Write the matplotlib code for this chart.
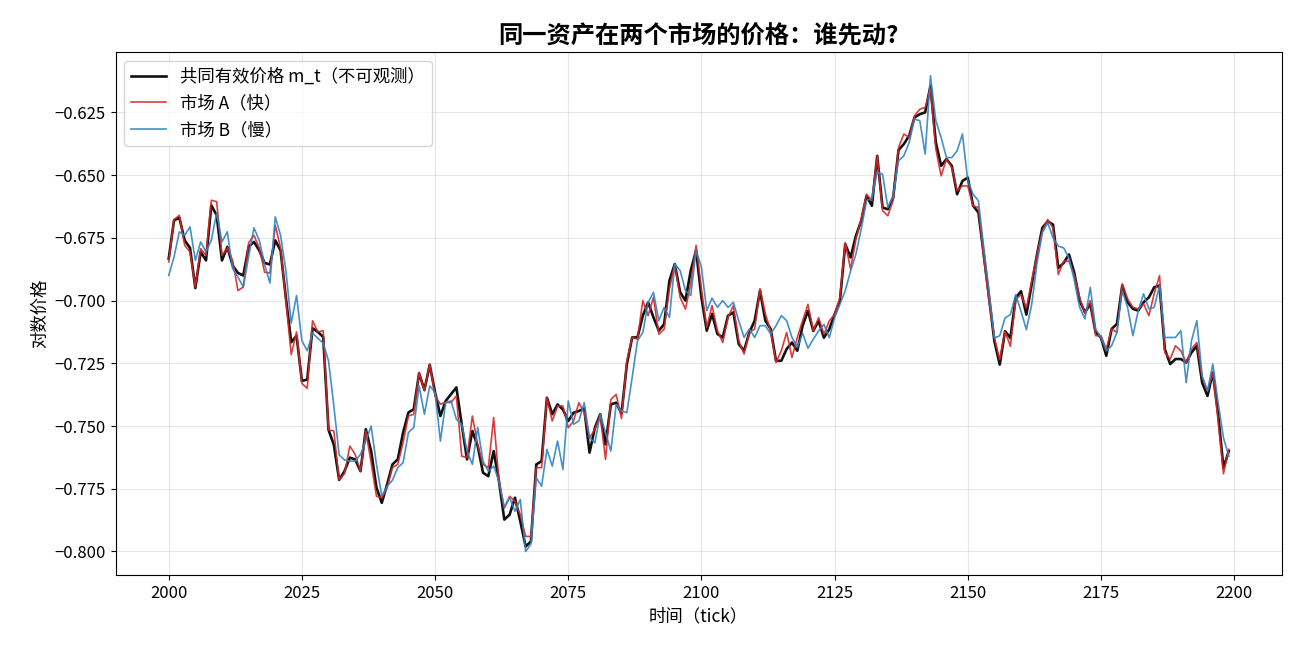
import numpy as np
import matplotlib
matplotlib.use("Agg")
import matplotlib.pyplot as plt

plt.rcParams['font.family'] = ['Noto Sans CJK SC', 'DejaVu Sans']
plt.rcParams['axes.unicode_minus'] = True

# ticks 2000..2199
start_tick = 2000

# common efficient price m_t
m_t = [
    -0.6833, -0.668, -0.667, -0.676, -0.679, -0.695, -0.6806, -0.684, -0.662, -0.666,
    -0.684, -0.6786, -0.686, -0.689, -0.690, -0.6786, -0.6766, -0.680, -0.685, -0.6856,
    -0.676, -0.680, -0.699, -0.7166, -0.714, -0.732, -0.7315, -0.711, -0.7125, -0.7145,
    -0.7515, -0.7575, -0.7715, -0.768, -0.7626, -0.7633, -0.768, -0.7513, -0.760, -0.7746,
    -0.7806, -0.7733, -0.7653, -0.7633, -0.7526, -0.7446, -0.7433, -0.729, -0.7356, -0.7256,
    -0.7366, -0.746, -0.740, -0.7373, -0.7346, -0.7493, -0.7633, -0.752, -0.758, -0.7686,
    -0.770, -0.760, -0.772, -0.7873, -0.7853, -0.7786, -0.788, -0.798, -0.796, -0.7653,
    -0.764, -0.7387, -0.7453, -0.7414, -0.7434, -0.748, -0.7447, -0.744, -0.743, -0.7606,
    -0.7507, -0.7453, -0.7573, -0.7414, -0.7407, -0.745, -0.7254, -0.7147, -0.7147, -0.706,
    -0.7007, -0.7067, -0.712, -0.7094, -0.692, -0.6854, -0.6967, -0.700, -0.688, -0.680,
    -0.6987, -0.712, -0.7053, -0.7133, -0.7147, -0.706, -0.7047, -0.7173, -0.720, -0.7127,
    -0.708, -0.696, -0.708, -0.7113, -0.724, -0.724, -0.7193, -0.7167, -0.720, -0.710,
    -0.7041, -0.7121, -0.7081, -0.7148, -0.7114, -0.7055, -0.7001, -0.6775, -0.6828, -0.6742,
    -0.6682, -0.6582, -0.6622, -0.6423, -0.6629, -0.6636, -0.6589, -0.640, -0.6376, -0.6343,
    -0.627, -0.6257, -0.625, -0.6144, -0.637, -0.6463, -0.6436, -0.6463, -0.6576, -0.6523,
    -0.651, -0.6622, -0.6649, -0.6816, -0.6989, -0.7162, -0.7255, -0.7122, -0.7149, -0.6989,
    -0.6963, -0.7056, -0.6936, -0.6816, -0.671, -0.6684, -0.6697, -0.687, -0.685, -0.6816,
    -0.689, -0.700, -0.7047, -0.7013, -0.7127, -0.7147, -0.722, -0.7113, -0.7093, -0.694,
    -0.7007, -0.7033, -0.704, -0.7007, -0.6987, -0.6947, -0.694, -0.7195, -0.7253, -0.7233,
    -0.7233, -0.7247, -0.7207, -0.718, -0.7327, -0.738, -0.7287, -0.7453, -0.7667, -0.760,
]

# market A (fast)
price_a = [
    -0.6846, -0.6677, -0.666, -0.678, -0.6806, -0.6946, -0.6793, -0.682, -0.660, -0.6606,
    -0.682, -0.679, -0.684, -0.696, -0.6946, -0.677, -0.674, -0.679, -0.6887, -0.689,
    -0.670, -0.679, -0.700, -0.7215, -0.7125, -0.733, -0.735, -0.708, -0.7125, -0.712,
    -0.7515, -0.752, -0.7715, -0.769, -0.758, -0.7613, -0.768, -0.752, -0.7646, -0.778,
    -0.7786, -0.7746, -0.7666, -0.7653, -0.7566, -0.746, -0.7453, -0.7286, -0.736, -0.7253,
    -0.738, -0.7413, -0.7406, -0.7406, -0.738, -0.762, -0.7626, -0.746, -0.7573, -0.7653,
    -0.7666, -0.7466, -0.772, -0.7826, -0.778, -0.780, -0.7853, -0.794, -0.794, -0.7666,
    -0.7666, -0.7387, -0.748, -0.742, -0.742, -0.7507, -0.748, -0.7407, -0.7447, -0.7547,
    -0.7513, -0.746, -0.7633, -0.7394, -0.7374, -0.747, -0.724, -0.7147, -0.7154, -0.700,
    -0.706, -0.6987, -0.7134, -0.7114, -0.6954, -0.6854, -0.6987, -0.7034, -0.6934, -0.678,
    -0.6954, -0.7107, -0.702, -0.712, -0.7167, -0.7067, -0.702, -0.716, -0.7213, -0.7127,
    -0.7113, -0.6953, -0.7053, -0.712, -0.7247, -0.720, -0.7127, -0.7227, -0.7147, -0.708,
    -0.7015, -0.712, -0.7068, -0.7134, -0.7081, -0.7055, -0.6988, -0.6769, -0.6875, -0.6755,
    -0.6676, -0.6576, -0.6602, -0.6423, -0.6642, -0.6662, -0.660, -0.639, -0.6336, -0.635,
    -0.6263, -0.6237, -0.623, -0.6157, -0.6396, -0.6503, -0.6436, -0.647, -0.6562, -0.6543,
    -0.6543, -0.6622, -0.6629, -0.683, -0.7003, -0.7149, -0.7235, -0.7122, -0.7182, -0.6996,
    -0.6976, -0.7029, -0.6923, -0.6816, -0.6723, -0.6677, -0.671, -0.6896, -0.6843, -0.6843,
    -0.690, -0.6987, -0.7053, -0.700, -0.714, -0.714, -0.7193, -0.7113, -0.7127, -0.6933,
    -0.6993, -0.7027, -0.7033, -0.7013, -0.706, -0.6973, -0.690, -0.7207, -0.7233, -0.718,
    -0.720, -0.7247, -0.7193, -0.7167, -0.7307, -0.736, -0.7287, -0.748, -0.769, -0.7593,
]

# market B (slow)
price_b = [
    -0.690, -0.6826, -0.6726, -0.674, -0.6706, -0.684, -0.6766, -0.6806, -0.676, -0.665,
    -0.6766, -0.6726, -0.6873, -0.6906, -0.6946, -0.6826, -0.671, -0.676, -0.6855, -0.693,
    -0.6666, -0.674, -0.688, -0.709, -0.698, -0.716, -0.720, -0.713, -0.715, -0.717,
    -0.724, -0.742, -0.7615, -0.7635, -0.764, -0.764, -0.7613, -0.756, -0.750, -0.7653,
    -0.778, -0.774, -0.7716, -0.7666, -0.7646, -0.7526, -0.7506, -0.734, -0.7453, -0.734,
    -0.7366, -0.756, -0.7406, -0.740, -0.7473, -0.7493, -0.760, -0.7653, -0.7506, -0.764,
    -0.768, -0.766, -0.772, -0.7826, -0.7786, -0.784, -0.7793, -0.800, -0.797, -0.7706,
    -0.774, -0.7593, -0.766, -0.756, -0.7673, -0.740, -0.7493, -0.748, -0.7407, -0.7547,
    -0.7567, -0.7453, -0.7527, -0.760, -0.7414, -0.744, -0.7447, -0.7307, -0.716, -0.7127,
    -0.7007, -0.6967, -0.708, -0.7027, -0.7067, -0.6854, -0.688, -0.696, -0.698, -0.680,
    -0.6867, -0.704, -0.699, -0.7027, -0.700, -0.7027, -0.7007, -0.708, -0.7147, -0.7113,
    -0.7147, -0.710, -0.710, -0.7133, -0.710, -0.706, -0.708, -0.7147, -0.7187, -0.713,
    -0.719, -0.7154, -0.7121, -0.7095, -0.7148, -0.7068, -0.7015, -0.6961, -0.6882, -0.6815,
    -0.6715, -0.6602, -0.6589, -0.6489, -0.6496, -0.6629, -0.6582, -0.6443, -0.6423, -0.637,
    -0.6277, -0.6283, -0.6416, -0.6104, -0.6283, -0.635, -0.643, -0.643, -0.6403, -0.6336,
    -0.6523, -0.6576, -0.6602, -0.679, -0.6963, -0.7149, -0.714, -0.7069, -0.7056, -0.6976,
    -0.7043, -0.7116, -0.7016, -0.685, -0.673, -0.669, -0.675, -0.6783, -0.679, -0.683,
    -0.692, -0.7027, -0.7073, -0.6947, -0.7113, -0.7147, -0.720, -0.718, -0.7127, -0.696,
    -0.7027, -0.714, -0.704, -0.6973, -0.7033, -0.7027, -0.694, -0.7147, -0.7147, -0.7147,
    -0.712, -0.7327, -0.716, -0.708, -0.730, -0.736, -0.7253, -0.7407, -0.7547, -0.762,
]

ticks = np.arange(start_tick, start_tick + len(m_t))

fig, ax = plt.subplots(figsize=(13, 6.5), dpi=100)
fig.subplots_adjust(left=0.089, right=0.986, top=0.92, bottom=0.115)

ax.plot(ticks, m_t, color='#111111', lw=1.9, label='共同有效价格 m_t（不可观测）')
ax.plot(ticks, price_a, color='#d62728', lw=1.2, alpha=0.9, label='市场 A（快）')
ax.plot(ticks, price_b, color='#2f84c2', lw=1.2, alpha=0.9, label='市场 B（慢）')

ax.set_title('同一资产在两个市场的价格：谁先动?', fontsize=17.5, fontweight='bold')
ax.set_xlabel('时间（tick）', fontsize=12.5)
ax.set_ylabel('对数价格', fontsize=12.5)
ax.tick_params(labelsize=12)
ax.grid(True, alpha=0.3)
ax.legend(loc='upper left', fontsize=12.5)

plt.savefig('out.png')
